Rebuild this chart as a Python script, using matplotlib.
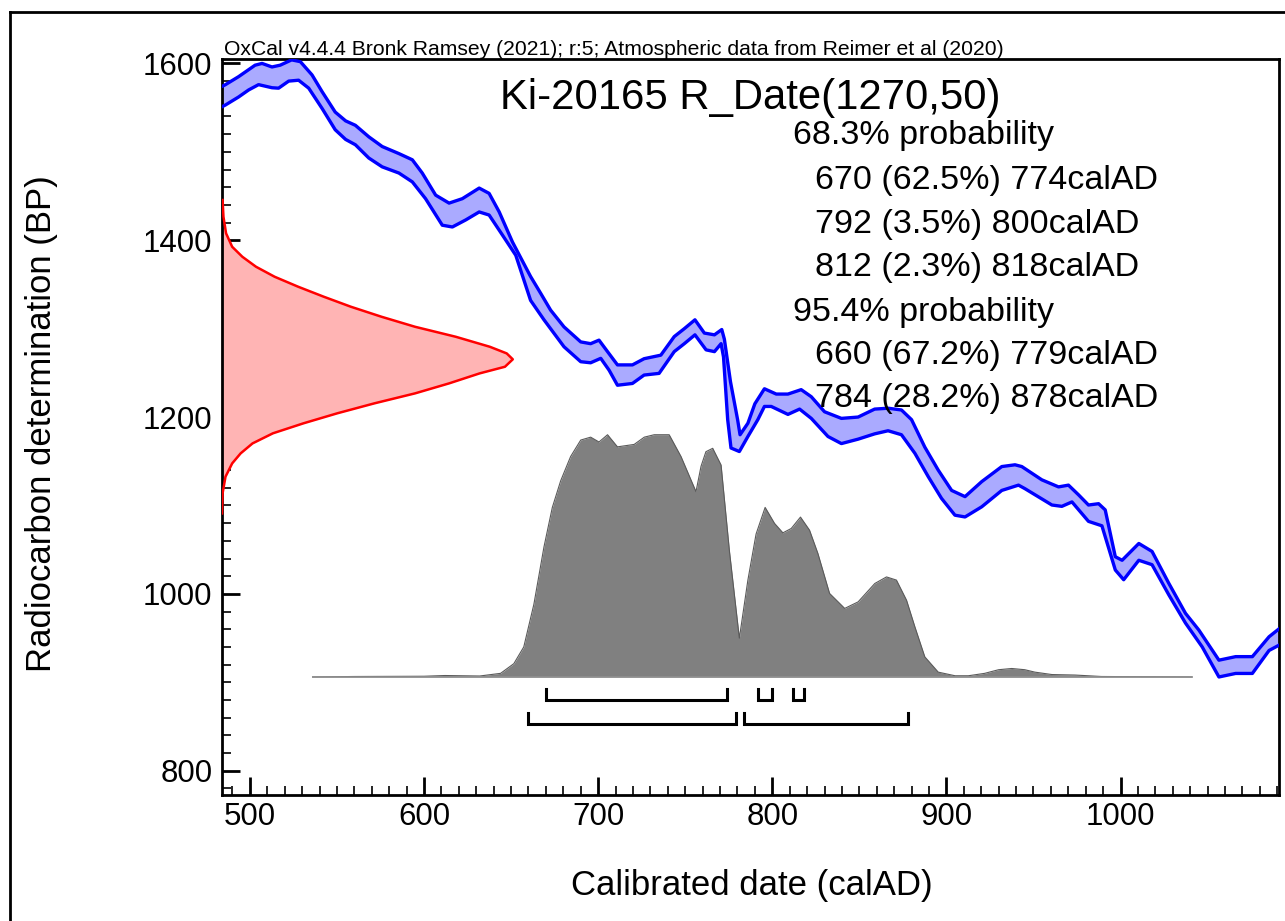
import numpy as np
import matplotlib
matplotlib.use('Agg')
import matplotlib.pyplot as plt
from matplotlib.lines import Line2D
from matplotlib.ticker import MultipleLocator

plt.rcParams['font.family'] = ['Liberation Sans', 'DejaVu Sans']

# calibration curve (IntCal20), upper and lower edges of the 1-sigma band
upper_year = [484, 486, 493.5, 503, 507, 512.7, 517.4, 524, 529, 535.7, 541.5, 549, 555, 560.6,
              568.3, 576, 585.6, 593.3, 599, 606.7, 614.4, 622, 631.7, 637.4, 643.2, 650.8,
              661.2, 667, 672.7, 680.4, 690, 695.7, 700.5, 705.4, 711.1, 719.7, 726.4, 736,
              743.7, 749.5, 755.6, 761, 766.8, 771, 772.5, 776, 780.1, 781.5, 786, 790, 795.5,
              802.3, 809, 816.6, 822.4, 830, 839.7, 849.3, 858.8, 866.5, 874.2, 880, 887.6,
              895.3, 903, 910.7, 920.3, 931.8, 939.4, 943.3, 954.8, 964.4, 970.1, 975.9, 981.6,
              987.4, 991.2, 997, 1000.9, 1010.5, 1018.1, 1027.7, 1037.3, 1045, 1056.5, 1066.1,
              1075.7, 1085.3, 1092]
upper_bp = [1574, 1576, 1585, 1598, 1600, 1596, 1598, 1604, 1602, 1587, 1568, 1545, 1535, 1530,
            1517, 1506, 1498, 1491, 1476, 1451, 1442, 1447, 1459, 1453, 1432, 1398,
            1359, 1340, 1321, 1302, 1285, 1283, 1287, 1274, 1259, 1259, 1266, 1270,
            1291, 1300, 1310, 1295, 1293, 1299, 1288, 1240, 1197, 1180, 1193, 1215, 1232,
            1226, 1226, 1231, 1223, 1206, 1198.5, 1200, 1209, 1210, 1208, 1197, 1166,
            1140, 1117, 1110, 1127, 1144, 1146, 1144, 1129, 1121, 1123, 1112, 1100.5,
            1102, 1095, 1042, 1038, 1057, 1048, 1012, 978, 959, 925, 929,
            929, 951.5, 962]

lower_year = [484, 486, 493.5, 499.3, 505, 512.7, 516.5, 522.3, 528, 533.8, 541.5, 549, 555,
              560.6, 568.3, 576, 585.6, 593.3, 600.9, 610.5, 616.3, 624, 631.7, 637.4, 645,
              652.7, 661.2, 668.9, 680.4, 690, 695.7, 701.5, 706.3, 711.1, 719.7, 726.4, 735,
              743.7, 749.5, 755.6, 762, 766.8, 770.6, 772, 774.4, 776.3, 781.1, 786, 791.7,
              795.5, 799.4, 809, 815.7, 822.4, 832, 839.7, 849.3, 858.8, 866.5, 874.2, 881.9,
              889.6, 897.2, 904.9, 910.7, 920.3, 931.8, 941.4, 945.1, 960.6, 966.3, 972.1,
              981.6, 989.3, 997, 1001.8, 1010.5, 1018.1, 1027.7, 1037.3, 1046.9, 1056.5,
              1066.1, 1075.7, 1085.3, 1092]
lower_bp = [1551, 1553, 1562, 1570, 1576, 1572.5, 1572, 1580, 1581, 1572, 1549, 1525, 1514,
            1508, 1493, 1483, 1476, 1466, 1447, 1417, 1415, 1423, 1432, 1428.5, 1406,
            1383, 1332, 1310, 1279.5, 1262.6, 1261.4, 1266.4, 1253, 1236, 1238, 1247.5, 1249.4,
            1274, 1283, 1293, 1276, 1274, 1283, 1268, 1197, 1165, 1161, 1178, 1197,
            1212, 1212, 1203, 1209, 1198.5, 1178, 1170, 1175, 1181, 1184.5, 1180, 1159,
            1132.5, 1108, 1089, 1087, 1098.5, 1117, 1123, 1119, 1100.5, 1099, 1104,
            1082, 1077, 1027, 1016, 1038, 1033, 999, 967, 940, 906,
            910, 910, 936, 943]

# measured date, R_Date(1270,50): relative probability against BP
rdate_bp = [1445.5, 1426.6, 1407.8, 1392.6, 1381.3, 1370, 1358.7, 1347.4, 1336.1, 1324.8,
            1313.5, 1302.1, 1290.8, 1279.5, 1272, 1265.3, 1256.9, 1249.4, 1238.1, 1226.8,
            1215.5, 1204.2, 1192.9, 1181.6, 1170.2, 1158.9, 1147.6, 1132.5, 1113.7, 1091]
rdate_p = [0.002, 0.005, 0.014, 0.035, 0.070, 0.117, 0.181, 0.262, 0.350, 0.443,
           0.548, 0.664, 0.804, 0.921, 0.979, 1.0, 0.973, 0.886, 0.781, 0.664,
           0.524, 0.396, 0.280, 0.175, 0.105, 0.064, 0.035, 0.012, 0.002, 0]

# calibrated distribution: relative probability against calAD
cal_year = [536, 560, 600, 612, 622, 632, 644, 651.6, 657.3, 663.1, 668.9, 673.7, 678.5, 684.2,
            690, 695.7, 700.5, 705.4, 711.1, 720.7, 726.5, 732.2, 740.8, 747.6, 756.2, 759.1,
            761.9, 765.8, 770.6, 775.4, 781.1, 786, 790.7, 795.9, 801.3, 806.1, 810.9, 816.2,
            821.4, 826.2, 832.9, 841.6, 849.3, 858.9, 865.6, 871.3, 877.1, 881.9, 887.6, 895.3,
            905, 912.6, 922, 930, 937.5, 945, 950.8, 960.6, 973.8, 989, 1041]
cal_p = [0, 0.002, 0.003, 0.006, 0.005, 0.004, 0.015, 0.055, 0.124, 0.30, 0.537, 0.70, 0.81, 0.91,
         0.978, 0.99, 0.97, 1.0, 0.95, 0.96, 0.99, 1.0, 1.0, 0.91, 0.765, 0.87,
         0.93, 0.944, 0.875, 0.52, 0.16, 0.40, 0.59, 0.70, 0.634, 0.595, 0.613, 0.66,
         0.606, 0.51, 0.345, 0.283, 0.31, 0.386, 0.413, 0.40, 0.317, 0.207, 0.083, 0.02,
         0.005, 0.005, 0.015, 0.03, 0.035, 0.03, 0.02, 0.01, 0.008, 0.002, 0]

# probability ranges
range68 = [(670, 774), (792, 800), (812, 818)]
range95 = [(660, 779), (784, 878)]
prob_lines = ['68.3% probability',
              '670 (62.5%) 774calAD',
              '792 (3.5%) 800calAD',
              '812 (2.3%) 818calAD',
              '95.4% probability',
              '660 (67.2%) 779calAD',
              '784 (28.2%) 878calAD']

W, H = 1285, 921
fig = plt.figure(figsize=(W / 100, H / 100), dpi=100)
ax = fig.add_axes([222 / W, 126 / H, 1057 / W, 736 / H])
xmin, xmax = 484, 1091
ax.set_xlim(xmin, xmax)
ax.set_ylim(772.5, 1605)

# calibration band
ax.fill(np.r_[upper_year, lower_year[::-1]], np.r_[upper_bp, lower_bp[::-1]],
        color='#aaaaff', lw=0, zorder=2)
ax.plot(upper_year, upper_bp, color='#0000ff', lw=2.4, zorder=3)
ax.plot(lower_year, lower_bp, color='#0000ff', lw=2.4, zorder=3)

# radiocarbon date on the y axis
red_x = xmin + 167 * np.array(rdate_p)
ax.fill_betweenx(rdate_bp, xmin, red_x, color='#ffb4b4', lw=0, zorder=2)
ax.plot(red_x, rdate_bp, color='#ff0000', lw=1.8, zorder=3)

# calibrated distribution
base = 906
cal_y = base + 274 * np.array(cal_p)
ax.fill_between(cal_year, base, cal_y, color='#808080', lw=0, zorder=2)
ax.plot(cal_year, cal_y, color='#5a5a5a', lw=0.8, zorder=3)
ax.plot([cal_year[0], cal_year[-1]], [base, base], color='#909090', lw=1.2, zorder=3)

# range brackets
for rows, top, bot in [(range68, 892.3, 880), (range95, 865.5, 852.7)]:
    for a, b in rows:
        ax.plot([a, a, b, b], [top, bot, bot, top], color='black', lw=2.2,
                solid_joinstyle='miter', zorder=4)

# axes styling
for s in ax.spines.values():
    s.set_linewidth(2)
ax.xaxis.set_major_locator(MultipleLocator(100))
ax.xaxis.set_minor_locator(MultipleLocator(10))
ax.yaxis.set_major_locator(MultipleLocator(200))
ax.yaxis.set_minor_locator(MultipleLocator(20))
ax.tick_params(which='major', direction='in', length=13, width=2, labelsize=22.5)
ax.tick_params(which='minor', direction='in', length=6.5, width=1.2)
ax.tick_params(axis='x', which='major', pad=5)
ax.tick_params(axis='y', which='major', pad=7)

# texts
fig.text(224 / W, 1 - 55 / H,
         'OxCal v4.4.4 Bronk Ramsey (2021); r:5; Atmospheric data from Reimer et al (2020)',
         fontsize=15.2, ha='left', va='baseline')
fig.text(750 / W, 1 - 109 / H, 'Ki-20165 R_Date(1270,50)', fontsize=30.2,
         ha='center', va='baseline')
baselines = [144, 189, 233, 276, 321, 364, 407]
for txt, yb in zip(prob_lines, baselines):
    x0 = 793 if 'probability' in txt else 815
    fig.text(x0 / W, 1 - yb / H, txt, fontsize=24.5, ha='left', va='baseline')

fig.text(42 / W, 1 - 424 / H, 'Radiocarbon determination (BP)', fontsize=25,
         rotation=90, ha='center', va='center')
fig.text(752 / W, 1 - 885 / H, 'Calibrated date (calAD)', fontsize=25,
         ha='center', va='center')

# outer frame
fig.add_artist(Line2D([10 / W, 10 / W], [0, 1 - 12 / H], color='black', lw=2))
fig.add_artist(Line2D([10 / W, 1], [1 - 12 / H, 1 - 12 / H], color='black', lw=2))

fig.savefig('out.png', dpi=100)
